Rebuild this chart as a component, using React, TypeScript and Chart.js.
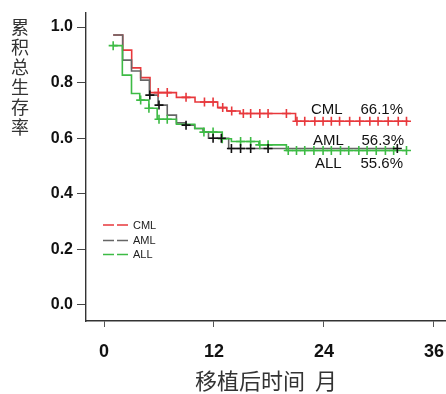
import React, { useEffect, useRef } from "react";
import { Chart, registerables } from "chart.js";

Chart.register(...registerables);

// ---- data ----
const xTicks = [0, 12, 24, 36];
const yTicks = [0, 0.2, 0.4, 0.6, 0.8, 1.0];

const groups = ["CML", "AML", "ALL"];
const finalRates = ["66.1%", "56.3%", "55.6%"];

const cmlTimes = [1, 2.04, 3.02, 4.0, 5.02, 7.9, 9.93, 12.4, 13.4, 14.84, 20.9, 33.2];
const cmlSurv = [0.971, 0.917, 0.853, 0.818, 0.764, 0.747, 0.73, 0.71, 0.698, 0.689, 0.661, 0.661];
const cmlCensor = [5.92, 6.9, 8.95, 10.96, 11.9, 12.95, 13.93, 15.2, 16.0, 17.0, 17.9, 19.9, 21.05, 21.9, 23.0, 23.9, 24.8, 25.7, 26.8, 27.9, 29.0, 29.9, 31.0, 32.1, 33.0];

const amlTimes = [1, 2.04, 3.0, 4.0, 4.95, 5.9, 6.9, 7.9, 8.9, 9.9, 10.8, 11.4, 13.6, 32.1];
const amlSurv = [0.971, 0.881, 0.842, 0.809, 0.755, 0.719, 0.683, 0.655, 0.647, 0.635, 0.623, 0.6, 0.563, 0.563];
const amlCensor = [5.0, 6.0, 8.95, 11.9, 12.8, 13.9, 14.9, 16.0, 17.9, 32.0];

const allTimes = [1, 2.0, 3.0, 3.9, 4.9, 5.8, 7.9, 9.9, 10.9, 12.9, 13.9, 16.9, 19.9, 33.0];
const allSurv = [0.933, 0.827, 0.761, 0.737, 0.708, 0.668, 0.65, 0.635, 0.622, 0.598, 0.588, 0.576, 0.556, 0.556];
const allCensor = [1.0, 4.0, 4.9, 6.0, 6.9, 10.9, 11.9, 12.9, 14.9, 16.0, 17.0, 17.9, 20.1, 21.0, 21.9, 22.9, 23.9, 24.8, 25.8, 26.7, 27.8, 28.7, 29.7, 30.7, 31.6, 33.0];

const xTitle = "移植后时间  月";
const yTitle = "累积总生存率";

// ---- styles ----
const lineColors = ["#e8383c", "#666666", "#3dbb45"];
const censorColors = ["#e8383c", "#111111", "#3dbb45"];

function survAt(times: number[], surv: number[], t: number) {
  let v = surv[0];
  for (let i = 0; i < times.length; i++) if (times[i] <= t) v = surv[i];
  return v;
}

const series = [
  { times: cmlTimes, surv: cmlSurv, censor: cmlCensor },
  { times: amlTimes, surv: amlSurv, censor: amlCensor },
  { times: allTimes, surv: allSurv, censor: allCensor },
];

const extrasPlugin = {
  id: "extras",
  afterDraw(chart: any) {
    const ctx = chart.ctx;
    ctx.save();
    // vertical y title
    ctx.fillStyle = "#333";
    ctx.font = '18px "Noto Sans CJK SC"';
    ctx.textAlign = "center";
    ctx.textBaseline = "middle";
    Array.from(yTitle).forEach((ch, i) => {
      ctx.fillText(ch, 20, 27 + i * 20);
    });
    // legend
    const legY = [225, 240.5, 254.5];
    ctx.font = '11px "Liberation Sans", Arial';
    ctx.textAlign = "left";
    groups.forEach((g, i) => {
      ctx.strokeStyle = lineColors[i];
      ctx.lineWidth = 1.5;
      ctx.setLineDash([11, 3]);
      ctx.beginPath();
      ctx.moveTo(103, legY[i]);
      ctx.lineTo(129, legY[i]);
      ctx.stroke();
      ctx.setLineDash([]);
      ctx.fillStyle = "#222";
      ctx.fillText(g, 133, legY[i] + 0.5);
    });
    // end annotations
    const nameX = [311, 313, 315];
    const rateX = [403, 404, 403];
    const baseY = [113.5, 145, 167.5];
    ctx.font = '15px "Liberation Sans", Arial';
    ctx.fillStyle = "#111";
    ctx.textBaseline = "alphabetic";
    groups.forEach((g, i) => {
      ctx.textAlign = "left";
      ctx.fillText(g, nameX[i], baseY[i]);
      ctx.textAlign = "right";
      ctx.fillText(finalRates[i], rateX[i], baseY[i]);
    });
    ctx.restore();
  },
};

export default function App() {
  const ref = useRef<HTMLCanvasElement>(null);
  useEffect(() => {
    if (!ref.current) return;
    const datasets: any[] = [];
    series.forEach((s, i) => {
      datasets.push({
        label: groups[i],
        data: s.times.map((t, j) => ({ x: t, y: s.surv[j] })),
        stepped: true,
        borderColor: lineColors[i],
        borderWidth: 1.6,
        pointRadius: 0,
        fill: false,
        order: 3 - i,
      });
    });
    series.forEach((s, i) => {
      datasets.push({
        label: groups[i] + " censored",
        data: s.censor.map((t) => ({ x: t, y: survAt(s.times, s.surv, t) })),
        showLine: false,
        pointStyle: "cross",
        pointRadius: 4.5,
        pointBorderWidth: 1.6,
        pointBorderColor: censorColors[i],
        pointBackgroundColor: censorColors[i],
        order: 0,
      });
    });
    const chart = new Chart(ref.current, {
      type: "line",
      data: { datasets },
      options: {
        animation: false,
        responsive: false,
        devicePixelRatio: 1,
        layout: { autoPadding: false, padding: { top: 13, left: 0, right: 0, bottom: 0 } },
        plugins: { legend: { display: false }, tooltip: { enabled: false } },
        scales: {
          x: {
            type: "linear",
            min: -1.964,
            max: 37.31,
            afterFit: (s: any) => {
              s.height = 73;
              s.paddingLeft = 0;
              s.paddingRight = 0;
            },
            afterBuildTicks: (s: any) => {
              s.ticks = xTicks.map((v) => ({ value: v }));
            },
            grid: { drawOnChartArea: false, drawTicks: true, tickLength: 6, color: "#555", tickWidth: 1 },
            border: { display: true, color: "#333", width: 1.4 },
            ticks: {
              padding: 14,
              color: "#111",
              font: { family: '"Liberation Sans", Arial', size: 18, weight: "bold" },
              callback: (v: any) => String(v),
            },
            title: {
              display: true,
              text: xTitle,
              color: "#333",
              font: { family: '"Noto Sans CJK SC"', size: 22 },
              padding: { top: 2, bottom: 0 },
            },
          },
          y: {
            type: "linear",
            min: -0.0576,
            max: 1.0504,
            afterFit: (s: any) => {
              s.width = 86;
              s.paddingTop = 0;
              s.paddingBottom = 0;
            },
            afterBuildTicks: (s: any) => {
              s.ticks = yTicks.map((v) => ({ value: v }));
            },
            grid: { drawOnChartArea: false, drawTicks: true, tickLength: 9, color: "#444", tickWidth: 1 },
            border: { display: true, color: "#333", width: 1.4 },
            ticks: {
              padding: 4,
              color: "#111",
              font: { family: '"Liberation Sans", Arial', size: 16, weight: "bold" },
              callback: (v: any) => Number(v).toFixed(1),
            },
          },
        },
      },
      plugins: [extrasPlugin],
    });
    return () => chart.destroy();
  }, []);
  return (
    <div style={{ position: "fixed", left: 0, top: 0, width: 446, height: 394, background: "#fff" }}>
      <canvas ref={ref} width={446} height={394} style={{ display: "block" }} />
    </div>
  );
}
